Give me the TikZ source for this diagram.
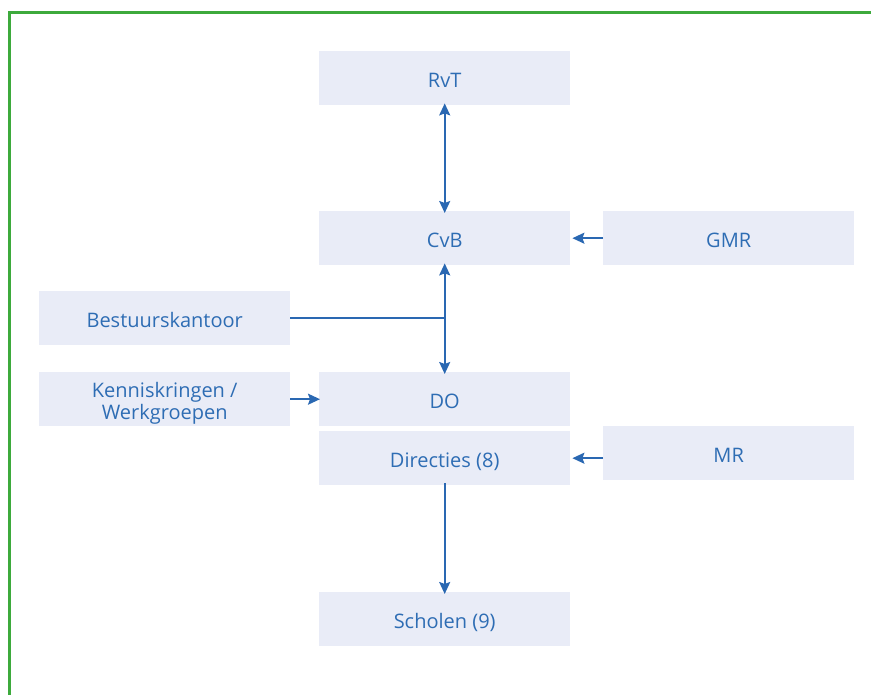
\documentclass[tikz,border=0pt]{standalone}
\usepackage{fontspec}
\setmainfont{Open Sans}
\usetikzlibrary{arrows.meta}
\definecolor{boxfill}{HTML}{E9ECF7}
\definecolor{txtblue}{HTML}{2E6DB4}
\definecolor{arrblue}{HTML}{2A68B2}
\definecolor{frameg}{HTML}{3DAA3C}
\newcommand{\boxlbl}[1]{\raisebox{-4.5pt}[\height][\depth]{\begin{tabular}{@{}c@{}}#1\end{tabular}}}
\begin{document}
\begin{tikzpicture}[x=1pt,y=-1pt,
  orgbox/.style={fill=boxfill,draw=none,minimum width=251pt,minimum height=54pt,inner sep=0pt,
     text=txtblue,font=\fontsize{20}{22}\selectfont,anchor=north west},
  conn/.style={draw=arrblue,line width=1.8pt,-{Stealth[length=12pt,width=11pt,inset=2pt]}},
  conn2/.style={conn,{Stealth[length=12pt,width=11pt,inset=2pt]}-{Stealth[length=12pt,width=11pt,inset=2pt]}}]
\useasboundingbox (0,0) rectangle (871,695);
\draw[frameg,line width=3pt] (9,720) -- (9,13) -- (900,13);
\node[orgbox] (rvt) at (319,51) {\boxlbl{RvT}};
\node[orgbox] (cvb) at (319,211) {\boxlbl{CvB}};
\node[orgbox] (gmr) at (603,211) {\boxlbl{GMR}};
\node[orgbox] (bk) at (39,291) {\boxlbl{Bestuurskantoor}};
\node[orgbox] (kk) at (39,372) {\boxlbl{Kenniskringen /\\Werkgroepen}};
\node[orgbox] (do) at (319,372) {\boxlbl{DO}};
\node[orgbox] (dir) at (319,431) {\boxlbl{Directies (8)}};
\node[orgbox] (mr) at (603,426) {\boxlbl{MR}};
\node[orgbox] (sch) at (319,592) {\boxlbl{Scholen (9)}};
\coordinate (j) at (bk.east -| cvb.south);
\draw[conn2] ([yshift=2pt]rvt.south) -- ([yshift=-2pt]cvb.north);
\draw[conn2] ([yshift=2pt]cvb.south) -- ([yshift=-2pt]do.north);
\draw[draw=arrblue,line width=1.8pt] (bk.east) -- (j);
\draw[conn] (gmr.west) -- ([xshift=2pt]cvb.east);
\draw[conn] (kk.east) -- ([xshift=1pt]do.west);
\draw[conn] (mr.west |- dir.east) -- ([xshift=2pt]dir.east);
\draw[conn] ([yshift=2pt]dir.south) -- ([yshift=-2pt]sch.north);
\end{tikzpicture}
\end{document}
